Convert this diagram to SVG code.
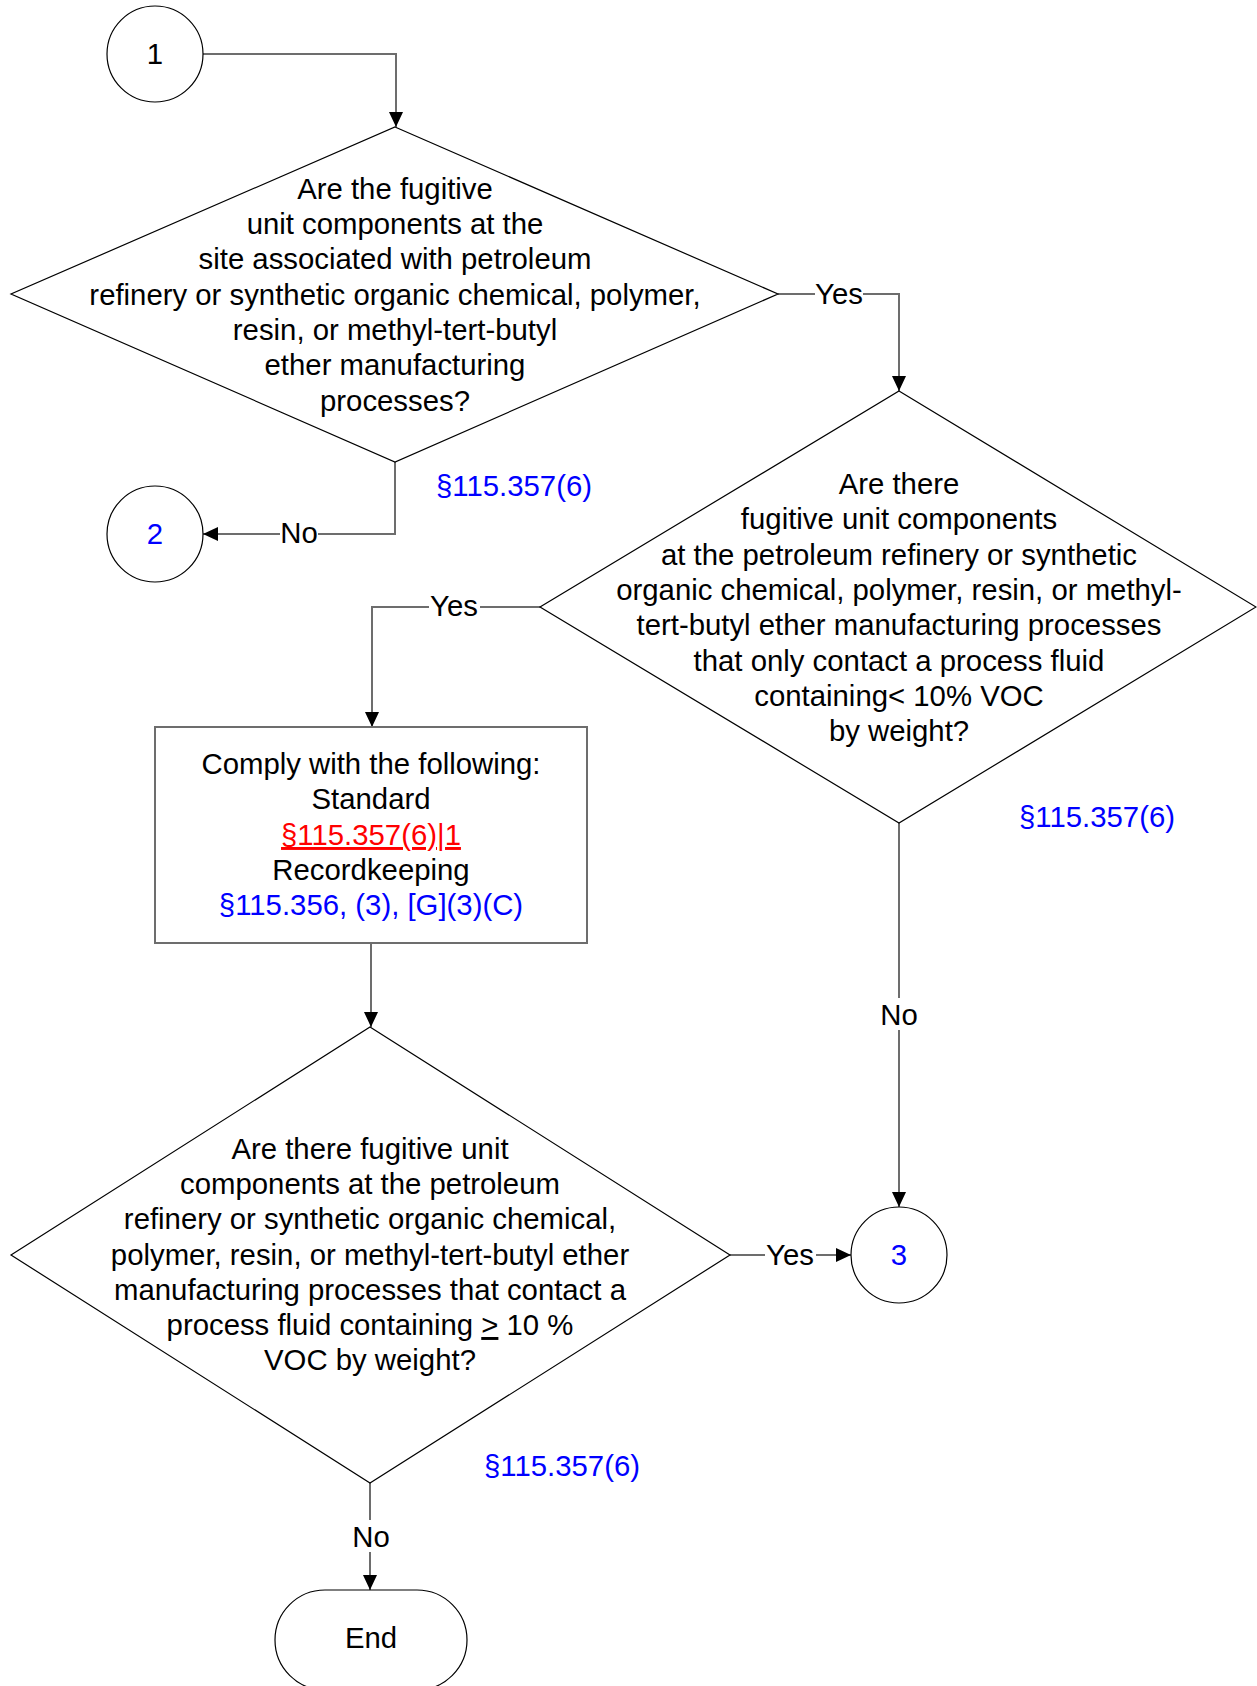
<svg xmlns="http://www.w3.org/2000/svg" width="1257" height="1686" viewBox="0 0 1257 1686">
<style>
text{font-family:"Liberation Sans",Arial,sans-serif;font-size:29.33px;fill:#000;text-anchor:middle}
.ref{fill:#0000ff}
.red{fill:#ff0000;text-decoration:underline}
.shape{fill:#fff;stroke:#000;stroke-width:1.2}
.box{fill:#fff;stroke:#6d6d6d;stroke-width:2}
.conn{fill:none;stroke:#6d6d6d;stroke-width:2}
.bg{fill:#fff;stroke:none}
</style>
<defs>
<marker id="arr" markerUnits="userSpaceOnUse" markerWidth="16" markerHeight="14" refX="15" refY="7" orient="auto">
<path d="M0,0 L15,7 L0,14 z" fill="#000"/>
</marker>
</defs>
<rect width="1257" height="1686" fill="#fff"/>
<g id="connectors">
<polyline class="conn" points="203,54 396,54 396,127" marker-end="url(#arr)"/>
<polyline class="conn" points="778,294 899,294 899,391" marker-end="url(#arr)"/>
<polyline class="conn" points="395,462 395,534 203,534" marker-end="url(#arr)"/>
<polyline class="conn" points="540,607 372,607 372,727" marker-end="url(#arr)"/>
<polyline class="conn" points="371,943 371,1027" marker-end="url(#arr)"/>
<polyline class="conn" points="899,823 899,1207" marker-end="url(#arr)"/>
<polyline class="conn" points="730,1255 851,1255" marker-end="url(#arr)"/>
<polyline class="conn" points="370,1483 370,1590" marker-end="url(#arr)"/>
<rect class="bg" x="815" y="278" width="48" height="32"/>
<text x="839" y="304">Yes</text>
<rect class="bg" x="280" y="518" width="38" height="32"/>
<text x="299" y="543">No</text>
<rect class="bg" x="429" y="590" width="51" height="32"/>
<text x="454" y="616">Yes</text>
<rect class="bg" x="880" y="998" width="38" height="32"/>
<text x="899" y="1025">No</text>
<rect class="bg" x="765" y="1238" width="51" height="32"/>
<text x="790" y="1265">Yes</text>
<rect class="bg" x="352" y="1520" width="38" height="32"/>
<text x="371" y="1547">No</text>
</g>
<g id="node-1">
<circle class="shape" cx="155" cy="54" r="48"/>
<text x="155" y="64">1</text>
</g>
<g id="decision-1">
<polygon class="shape" points="395,127 778,294 395,462 11,294"/>
<text x="395" y="199">Are the fugitive</text>
<text x="395" y="234">unit components at the</text>
<text x="395" y="269">site associated with petroleum</text>
<text x="395" y="305">refinery or synthetic organic chemical, polymer,</text>
<text x="395" y="340">resin, or methyl-tert-butyl</text>
<text x="395" y="375">ether manufacturing</text>
<text x="395" y="411">processes?</text>
<text class="ref" x="514" y="496">§115.357(6)</text>
</g>
<g id="node-2">
<circle class="shape" cx="155" cy="534" r="48"/>
<text class="ref" x="155" y="544">2</text>
</g>
<g id="decision-2">
<polygon class="shape" points="899,391 1256,607 899,823 540,607"/>
<text x="899" y="494">Are there</text>
<text x="899" y="529">fugitive unit components</text>
<text x="899" y="565">at the petroleum refinery or synthetic</text>
<text x="899" y="600">organic chemical, polymer, resin, or methyl-</text>
<text x="899" y="635">tert-butyl ether manufacturing processes</text>
<text x="899" y="671">that only contact a process fluid</text>
<text x="899" y="706">containing&lt; 10% VOC</text>
<text x="899" y="741">by weight?</text>
<text class="ref" x="1097" y="827">§115.357(6)</text>
</g>
<g id="comply-box">
<rect class="box" x="155" y="727" width="432" height="216"/>
<text x="371" y="774">Comply with the following:</text>
<text x="371" y="809">Standard</text>
<text class="red" x="371" y="845">§115.357(6)|1</text>
<text x="371" y="880">Recordkeeping</text>
<text class="ref" x="371" y="915">§115.356, (3), [G](3)(C)</text>
</g>
<g id="decision-3">
<polygon class="shape" points="370,1027 730,1255 370,1483 11,1255"/>
<text x="370" y="1159">Are there fugitive unit</text>
<text x="370" y="1194">components at the petroleum</text>
<text x="370" y="1229">refinery or synthetic organic chemical,</text>
<text x="370" y="1265">polymer, resin, or methyl-tert-butyl ether</text>
<text x="370" y="1300">manufacturing processes that contact a</text>
<text x="370" y="1335">process fluid containing <tspan text-decoration="underline">&gt;</tspan> 10 %</text>
<text x="370" y="1370">VOC by weight?</text>
<text class="ref" x="562" y="1476">§115.357(6)</text>
</g>
<g id="node-3">
<circle class="shape" cx="899" cy="1255" r="48"/>
<text class="ref" x="899" y="1265">3</text>
</g>
<g id="end">
<rect class="shape" x="275" y="1590" width="192" height="100" rx="50" ry="50"/>
<text x="371" y="1648">End</text>
</g>
</svg>
